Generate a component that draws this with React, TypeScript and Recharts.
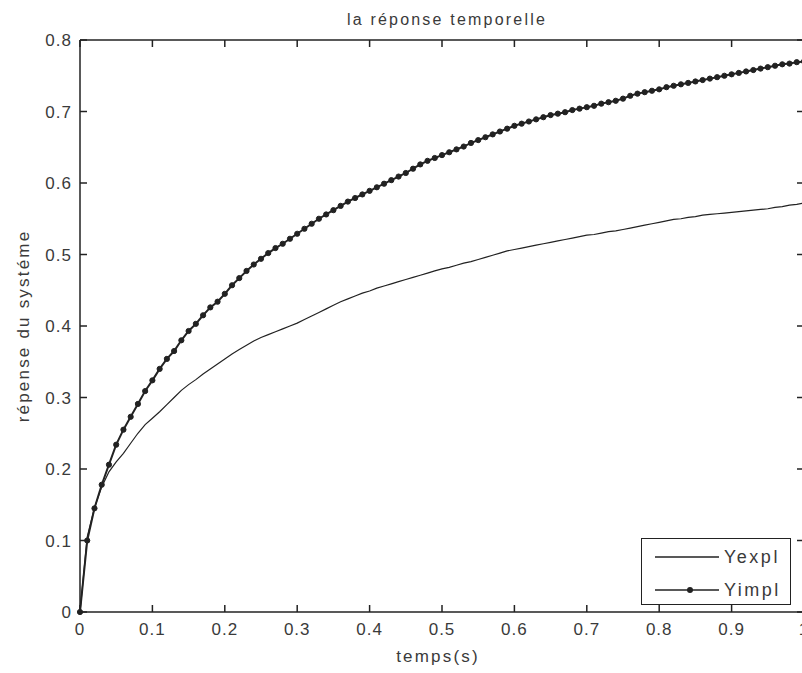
import { ComposedChart, Line, ReferenceLine, XAxis, YAxis } from 'recharts'

// réponse temporelle, pas de 0.01 s
const Y_EXPL = [
  0, 0.105, 0.146, 0.175, 0.196, 0.21, 0.222, 0.236, 0.25, 0.262,
  0.271, 0.28, 0.29, 0.3, 0.31, 0.318, 0.325, 0.333, 0.34, 0.347,
  0.354, 0.361, 0.367, 0.373, 0.379, 0.384, 0.388, 0.392, 0.396, 0.4,
  0.404, 0.409, 0.414, 0.419, 0.424, 0.429, 0.434, 0.438, 0.442, 0.446,
  0.449, 0.453, 0.456, 0.459, 0.462, 0.465, 0.468, 0.471, 0.474, 0.477,
  0.48, 0.482, 0.485, 0.488, 0.49, 0.493, 0.496, 0.499, 0.502, 0.505,
  0.507, 0.509, 0.511, 0.513, 0.515, 0.517, 0.519, 0.521, 0.523, 0.525,
  0.527, 0.528, 0.53, 0.532, 0.533, 0.535, 0.537, 0.539, 0.541, 0.543,
  0.545, 0.547, 0.549, 0.55, 0.552, 0.553, 0.555, 0.556, 0.557, 0.558,
  0.559, 0.56, 0.561, 0.562, 0.563, 0.564, 0.566, 0.567, 0.569, 0.57,
  0.572,
]

const Y_IMPL = [
  0, 0.1, 0.145, 0.178, 0.206, 0.234, 0.255, 0.273, 0.291, 0.309,
  0.324, 0.34, 0.354, 0.365, 0.38, 0.393, 0.403, 0.415, 0.426, 0.434,
  0.445, 0.457, 0.467, 0.477, 0.486, 0.494, 0.502, 0.509, 0.515, 0.522,
  0.529, 0.536, 0.543, 0.55, 0.556, 0.562, 0.568, 0.574, 0.579, 0.584,
  0.589, 0.594, 0.599, 0.604, 0.609, 0.614, 0.62, 0.626, 0.631, 0.635,
  0.639, 0.643, 0.647, 0.651, 0.656, 0.66, 0.664, 0.668, 0.672, 0.676,
  0.68, 0.683, 0.686, 0.689, 0.692, 0.695, 0.697, 0.699, 0.702, 0.704,
  0.706, 0.708, 0.711, 0.713, 0.715, 0.718, 0.722, 0.725, 0.727, 0.729,
  0.731, 0.734, 0.736, 0.738, 0.74, 0.742, 0.744, 0.746, 0.748, 0.75,
  0.752, 0.754, 0.756, 0.758, 0.76, 0.762, 0.764, 0.766, 0.767, 0.769,
  0.77,
]

const X_TICKS = [0, 0.1, 0.2, 0.3, 0.4, 0.5, 0.6, 0.7, 0.8, 0.9, 1]
const Y_TICKS = [0, 0.1, 0.2, 0.3, 0.4, 0.5, 0.6, 0.7, 0.8]

const data = Y_EXPL.map((v, i) => ({ t: i / 100, Yexpl: v, Yimpl: Y_IMPL[i] }))

// points d'ancrage des graduations du cadre
const bottomTicks = X_TICKS.map((t) => ({ t, v: 0 }))
const topTicks = X_TICKS.map((t) => ({ t, v: 0.8 }))
const leftTicks = Y_TICKS.map((v) => ({ t: 0, v }))
const rightTicks = Y_TICKS.map((v) => ({ t: 1, v }))

const INK = '#222'
const TEXT = '#3a3a3a'
const FONT = '"Liberation Sans", Arial, sans-serif'
const L = 7
const tickStyle = { fontSize: 17, fill: TEXT, fontFamily: FONT, letterSpacing: 1 }

// graduations tournées vers l'intérieur (style MATLAB), dessinées comme points de série
const mark = (dx: number, dy: number) => (p: any) => (
  <line
    key={p.index}
    x1={p.cx}
    y1={p.cy}
    x2={p.cx + dx}
    y2={p.cy + dy}
    stroke={INK}
    strokeWidth={1.5}
  />
)

const tickSeries = [
  { id: 'bottom', rows: bottomTicks, dot: mark(0, -L) },
  { id: 'top', rows: topTicks, dot: mark(0, L) },
  { id: 'left', rows: leftTicks, dot: mark(L, 0) },
  { id: 'right', rows: rightTicks, dot: mark(-L, 0) },
]

export default function App() {
  const frame = { xAxisId: 'b', yAxisId: 'l', stroke: INK, strokeWidth: 1.5, ifOverflow: 'visible' as const }
  return (
    <div
      style={{
        position: 'fixed',
        left: 0,
        top: 0,
        width: 802,
        height: 673,
        overflow: 'hidden',
        background: '#fff',
        fontFamily: FONT,
        color: TEXT,
      }}
    >
      <ComposedChart
        width={830}
        height={673}
        data={data}
        margin={{ top: 40, left: 0, right: 26, bottom: 0 }}
      >
        <XAxis
          xAxisId="b"
          type="number"
          dataKey="t"
          domain={[0, 1]}
          ticks={X_TICKS}
          height={61}
          tickSize={0}
          tickMargin={11}
          stroke={INK}
          strokeWidth={1.5}
          tickLine={false}
          tick={tickStyle}
          interval={0}
        />
        <YAxis
          yAxisId="l"
          type="number"
          domain={[0, 0.8]}
          ticks={Y_TICKS}
          width={80}
          tickSize={0}
          tickMargin={8}
          stroke={INK}
          strokeWidth={1.5}
          tickLine={false}
          tick={tickStyle}
          interval={0}
        />

        <ReferenceLine {...frame} y={0.8} />
        <ReferenceLine {...frame} x={1} />

        {tickSeries.map((s) => (
          <Line
            key={s.id}
            xAxisId="b"
            yAxisId="l"
            data={s.rows}
            dataKey="v"
            stroke="none"
            dot={s.dot}
            activeDot={false}
            legendType="none"
            isAnimationActive={false}
          />
        ))}

        <Line
          xAxisId="b"
          yAxisId="l"
          type="linear"
          dataKey="Yexpl"
          stroke={INK}
          strokeWidth={1.2}
          dot={false}
          isAnimationActive={false}
        />
        <Line
          xAxisId="b"
          yAxisId="l"
          type="linear"
          dataKey="Yimpl"
          stroke={INK}
          strokeWidth={2}
          dot={{ r: 2.6, fill: INK, stroke: INK, strokeWidth: 1 }}
          isAnimationActive={false}
        />
      </ComposedChart>

      <div
        style={{
          position: 'absolute',
          left: 0,
          width: 894,
          top: 11,
          textAlign: 'center',
          fontSize: 16,
          letterSpacing: 2.2,
        }}
      >
        la réponse temporelle
      </div>
      <div
        style={{
          position: 'absolute',
          left: 0,
          width: 876,
          top: 647,
          textAlign: 'center',
          fontSize: 17,
          letterSpacing: 2.2,
        }}
      >
        temps(s)
      </div>
      <div
        style={{
          position: 'absolute',
          left: 24,
          top: 326,
          transform: 'translate(-50%, -50%) rotate(-90deg)',
          whiteSpace: 'nowrap',
          fontSize: 17,
          letterSpacing: 2.2,
        }}
      >
        répense du systéme
      </div>

      <div
        style={{
          position: 'absolute',
          left: 641,
          top: 538,
          width: 150,
          height: 67,
          border: `1.5px solid ${INK}`,
          background: '#fff',
          boxSizing: 'border-box',
        }}
      >
        {['Yexpl', 'Yimpl'].map((name, i) => (
          <div
            key={name}
            style={{
              position: 'absolute',
              left: 12,
              top: 6 + i * 33,
              height: 24,
              display: 'flex',
              alignItems: 'center',
              fontSize: 18,
              letterSpacing: 2.5,
            }}
          >
            <svg width={66} height={10} style={{ marginRight: 4 }}>
              <line x1={1} y1={5} x2={65} y2={5} stroke={INK} strokeWidth={1.5} />
              {i === 1 && <circle cx={36} cy={5} r={3} fill={INK} />}
            </svg>
            {name}
          </div>
        ))}
      </div>
    </div>
  )
}
